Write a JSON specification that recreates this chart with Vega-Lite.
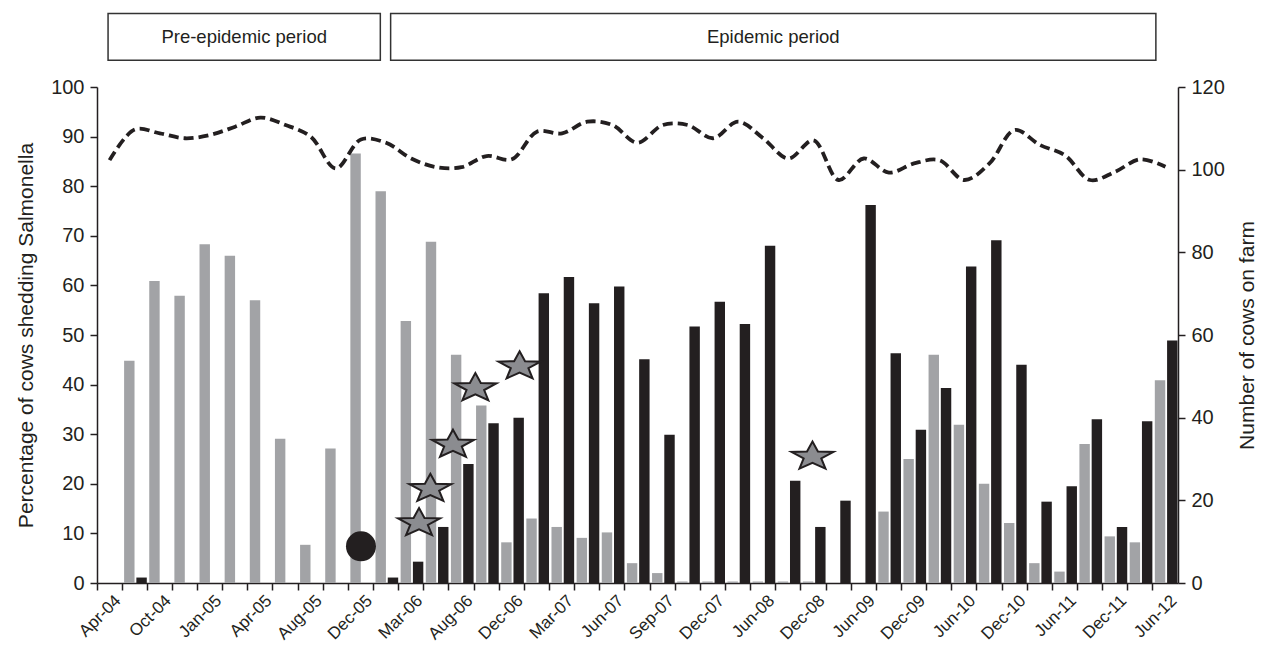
{
  "$schema": "https://vega.github.io/schema/vega-lite/v6.json",
  "width": 1081,
  "height": 496,
  "autosize": {"type": "none"},
  "padding": {"left": 97, "top": 87, "right": 84, "bottom": 75},
  "background": "white",
  "datasets": {
    "samples": [
      {"sample": 1, "date": "Apr-04", "pctA": 0, "pctB": 0, "cows": 102.3},
      {"sample": 2, "date": "Jul-04", "pctA": 44.8, "pctB": 1.1, "cows": 109.7},
      {"sample": 3, "date": "Oct-04", "pctA": 60.9, "pctB": 0, "cows": 108.8},
      {"sample": 4, "date": "Nov-04", "pctA": 57.9, "pctB": 0, "cows": 107.6},
      {"sample": 5, "date": "Jan-05", "pctA": 68.3, "pctB": 0, "cows": 108.4},
      {"sample": 6, "date": "Mar-05", "pctA": 66.0, "pctB": 0, "cows": 110.4},
      {"sample": 7, "date": "Apr-05", "pctA": 57.0, "pctB": 0, "cows": 112.6},
      {"sample": 8, "date": "Jun-05", "pctA": 29.1, "pctB": 0, "cows": 110.8},
      {"sample": 9, "date": "Aug-05", "pctA": 7.7, "pctB": 0, "cows": 108.0},
      {"sample": 10, "date": "Oct-05", "pctA": 27.1, "pctB": 0, "cows": 100.3},
      {"sample": 11, "date": "Dec-05", "pctA": 86.6, "pctB": 0, "cows": 107.3, "event": 7.4},
      {"sample": 12, "date": "Jan-06", "pctA": 79.0, "pctB": 1.1, "cows": 106.5},
      {"sample": 13, "date": "Mar-06", "pctA": 52.8, "pctB": 4.3, "cows": 102.7},
      {"sample": 14, "date": "May-06", "pctA": 68.8, "pctB": 11.3, "cows": 100.6},
      {"sample": 15, "date": "Aug-06", "pctA": 46.0, "pctB": 24.0, "cows": 100.6},
      {"sample": 16, "date": "Oct-06", "pctA": 35.8, "pctB": 32.2, "cows": 103.3},
      {"sample": 17, "date": "Dec-06", "pctA": 8.2, "pctB": 33.3, "cows": 102.5},
      {"sample": 18, "date": "Jan-07", "pctA": 13.0, "pctB": 58.4, "cows": 109.2},
      {"sample": 19, "date": "Mar-07", "pctA": 11.3, "pctB": 61.7, "cows": 108.8},
      {"sample": 20, "date": "Apr-07", "pctA": 9.1, "pctB": 56.4, "cows": 111.6},
      {"sample": 21, "date": "Jun-07", "pctA": 10.2, "pctB": 59.8, "cows": 110.8},
      {"sample": 22, "date": "Jul-07", "pctA": 4.0, "pctB": 45.1, "cows": 106.5},
      {"sample": 23, "date": "Sep-07", "pctA": 2.0, "pctB": 29.9, "cows": 110.8},
      {"sample": 24, "date": "Oct-07", "pctA": 0.3, "pctB": 51.7, "cows": 110.8},
      {"sample": 25, "date": "Dec-07", "pctA": 0.3, "pctB": 56.7, "cows": 107.6},
      {"sample": 26, "date": "Mar-08", "pctA": 0.3, "pctB": 52.2, "cows": 111.6},
      {"sample": 27, "date": "Jun-08", "pctA": 0.3, "pctB": 68.0, "cows": 107.6},
      {"sample": 28, "date": "Sep-08", "pctA": 0.3, "pctB": 20.6, "cows": 102.7},
      {"sample": 29, "date": "Dec-08", "pctA": 0.3, "pctB": 11.3, "cows": 107.1},
      {"sample": 30, "date": "Mar-09", "pctA": 0, "pctB": 16.6, "cows": 97.5},
      {"sample": 31, "date": "Jun-09", "pctA": 0, "pctB": 76.2, "cows": 102.7},
      {"sample": 32, "date": "Sep-09", "pctA": 14.4, "pctB": 46.3, "cows": 99.3},
      {"sample": 33, "date": "Dec-09", "pctA": 25.0, "pctB": 30.9, "cows": 101.5},
      {"sample": 34, "date": "Mar-10", "pctA": 46.0, "pctB": 39.3, "cows": 102.3},
      {"sample": 35, "date": "Jun-10", "pctA": 31.9, "pctB": 63.8, "cows": 97.5},
      {"sample": 36, "date": "Sep-10", "pctA": 20.0, "pctB": 69.1, "cows": 101.5},
      {"sample": 37, "date": "Dec-10", "pctA": 12.1, "pctB": 44.0, "cows": 109.6},
      {"sample": 38, "date": "Mar-11", "pctA": 4.0, "pctB": 16.4, "cows": 106.0},
      {"sample": 39, "date": "Jun-11", "pctA": 2.3, "pctB": 19.5, "cows": 103.5},
      {"sample": 40, "date": "Sep-11", "pctA": 28.0, "pctB": 33.0, "cows": 97.5},
      {"sample": 41, "date": "Dec-11", "pctA": 9.4, "pctB": 11.3, "cows": 99.5},
      {"sample": 42, "date": "Mar-12", "pctA": 8.2, "pctB": 32.6, "cows": 102.5},
      {"sample": 43, "date": "Jun-12", "pctA": 40.9, "pctB": 48.9, "cows": 100.7}
    ],
    "stars": [
      {"timeline": 12.81, "pct": 12.1},
      {"timeline": 13.26, "pct": 19.0},
      {"timeline": 14.16, "pct": 27.9},
      {"timeline": 15.05, "pct": 39.3},
      {"timeline": 16.81, "pct": 43.7},
      {"timeline": 28.46, "pct": 25.5}
    ],
    "periods": [
      {"period": "Pre-epidemic period", "start": 0.44, "end": 11.27},
      {"period": "Epidemic period", "start": 11.68, "end": 42.12}
    ]
  },
  "layer": [
    {
      "data": {"name": "samples"},
      "layer": [
        {
          "layer": [
            {
              "transform": [{"fold": ["pctA", "pctB"], "as": ["series", "pct"]}],
              "mark": {"type": "bar"},
              "encoding": {
                "x": {
                  "field": "date",
                  "type": "ordinal",
                  "sort": {"field": "sample", "op": "min"},
                  "scale": {"paddingInner": 0, "paddingOuter": 0},
                  "axis": {
                    "title": null,
                    "bandPosition": 0,
                    "labelAngle": -45,
                    "labelAlign": "right",
                    "labelBaseline": "top",
                    "labelFontSize": 17,
                    "labelOffset": 3,
                    "labelPadding": 2,
                    "tickSize": 7,
                    "labelOverlap": false,
                    "labelBound": false,
                    "labelExpr": "round(datum.index * 42) % 2 == 0 ? datum.label : ''"
                  }
                },
                "xOffset": {
                  "field": "series",
                  "type": "nominal",
                  "scale": {"paddingInner": 0.15, "paddingOuter": 0.1, "align": 0.8}
                },
                "y": {
                  "field": "pct",
                  "type": "quantitative",
                  "title": "Percentage of cows shedding Salmonella",
                  "scale": {"domain": [0, 100], "nice": false},
                  "axis": {
                    "orient": "left",
                    "values": [0, 10, 20, 30, 40, 50, 60, 70, 80, 90, 100],
                    "tickSize": 7,
                    "labelPadding": 6,
                    "labelFontSize": 20,
                    "titleFontSize": 21,
                    "titlePadding": 14
                  }
                },
                "color": {
                  "field": "series",
                  "type": "nominal",
                  "scale": {"domain": ["pctA", "pctB"], "range": ["#a2a3a6", "#231f20"]},
                  "legend": null
                }
              }
            },
            {
              "mark": {"type": "point", "shape": "circle", "filled": true, "size": 900, "color": "#231f20", "opacity": 1},
              "encoding": {
                "x": {"field": "date", "type": "ordinal", "sort": {"field": "sample", "op": "min"}},
                "y": {"field": "event", "type": "quantitative", "title": "Percentage of cows shedding Salmonella"}
              }
            }
          ]
        },
        {
          "mark": {"type": "line", "strokeDash": [10, 5], "strokeWidth": 3.8, "color": "#231f20", "interpolate": "catmull-rom"},
          "encoding": {
            "x": {"field": "date", "type": "ordinal", "sort": {"field": "sample", "op": "min"}},
            "y": {
              "field": "cows",
              "type": "quantitative",
              "title": "Number of cows on farm",
              "scale": {"domain": [0, 120], "nice": false},
              "axis": {
                "orient": "right",
                "values": [0, 20, 40, 60, 80, 100, 120],
                "tickSize": 7,
                "labelPadding": 6,
                "labelFontSize": 20,
                "titleFontSize": 21,
                "titleAngle": 270,
                "titleBaseline": "top",
                "titlePadding": 12
              }
            }
          }
        }
      ],
      "resolve": {"scale": {"y": "independent"}}
    },
    {
      "layer": [
        {
          "data": {"name": "periods"},
          "mark": {"type": "rect", "filled": false, "stroke": "#333333", "strokeWidth": 1.5},
          "encoding": {
            "x": {"field": "start", "type": "quantitative", "scale": {"domain": [0, 43], "nice": false, "zero": false}, "axis": null},
            "x2": {"field": "end"},
            "y": {"datum": 105.4, "type": "quantitative", "scale": {"domain": [0, 100], "nice": false}, "axis": null},
            "y2": {"datum": 114.8}
          }
        },
        {
          "data": {"name": "periods"},
          "transform": [
            {"fold": ["start", "end"], "as": ["edge", "edgePos"]},
            {"aggregate": [{"op": "mean", "field": "edgePos", "as": "center"}], "groupby": ["period"]}
          ],
          "mark": {"type": "text", "fontSize": 18.5, "color": "#231f20", "baseline": "middle", "align": "center"},
          "encoding": {
            "x": {"field": "center", "type": "quantitative", "scale": {"domain": [0, 43], "nice": false, "zero": false}, "axis": null},
            "y": {"datum": 110.1, "type": "quantitative", "scale": {"domain": [0, 100], "nice": false}, "axis": null},
            "text": {"field": "period"}
          }
        },
        {
          "data": {"name": "stars"},
          "mark": {
            "type": "point",
            "shape": "M0,-0.713L0.26,-0.242L1,-0.22L0.42,0.093L0.618,0.577L0,0.299L-0.618,0.577L-0.42,0.093L-1,-0.22L-0.26,-0.242Z",
            "filled": true,
            "fill": "#8b8c90",
            "stroke": "#231f20",
            "strokeWidth": 2,
            "size": 1764,
            "opacity": 1
          },
          "encoding": {
            "x": {"field": "timeline", "type": "quantitative", "scale": {"domain": [0, 43], "nice": false, "zero": false}, "axis": null},
            "y": {"field": "pct", "type": "quantitative", "scale": {"domain": [0, 100], "nice": false}, "axis": null}
          }
        }
      ]
    }
  ],
  "resolve": {"scale": {"x": "independent", "y": "independent"}},
  "config": {
    "font": "Liberation Sans",
    "view": {"stroke": null},
    "axis": {
      "domainColor": "#231f20",
      "tickColor": "#231f20",
      "labelColor": "#231f20",
      "titleColor": "#231f20",
      "domainWidth": 1.5,
      "tickWidth": 1.5,
      "grid": false,
      "labelFont": "Liberation Sans",
      "titleFont": "Liberation Sans",
      "titleFontWeight": "normal"
    }
  }
}
